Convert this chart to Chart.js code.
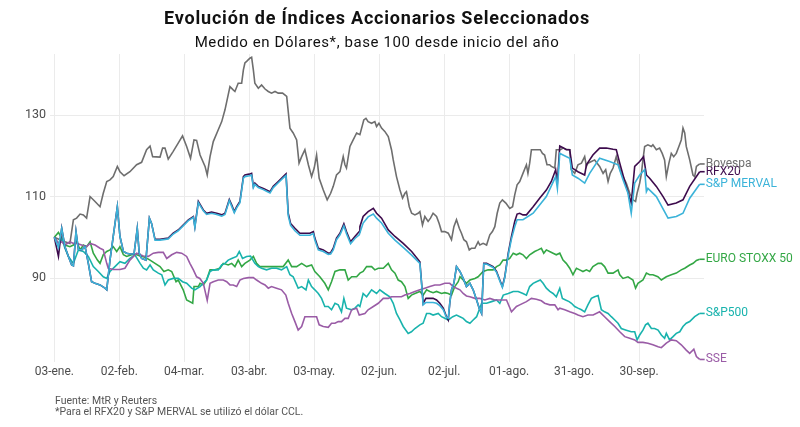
<!DOCTYPE html>
<html>
<head>
  <title>Evolución de Índices Accionarios Seleccionados</title>
  <script src="https://cdn.jsdelivr.net/npm/chart.js"></script>
  <style>
    body { margin: 0; background: #fff; }
  </style>
</head>
<body>
  <canvas id="indices" width="800" height="427"></canvas>

  <script>
    // dias desde el 03-ene, valor base 100
    var tickDays = [0, 30, 60, 90, 120, 150, 180, 210, 240, 270];
    var tickLabels = ['03-ene.', '02-feb.', '04-mar.', '03-abr.', '03-may.', '02-jun.', '02-jul.', '01-ago.', '31-ago.', '30-sep.'];
    var yTicks = [90, 110, 130];

    var bovespa = [[0,100],[2.6,99.4],[4.9,98.9],[7.2,98.5],[8.8,104.3],[10.3,104.7],[11.9,105.7],[13.4,105.5],[14.9,104.7],[16.5,110],[18.8,108.8],[21.1,107.5],[22.6,110.8],[24.2,113.7],[25.7,114.1],[27.2,114.9],[29.1,117.4],[30.3,116.1],[32.2,115.1],[34.9,116.1],[38,117.8],[40.3,118.4],[42.6,121.5],[44.2,122.4],[45.4,119.8],[48.8,119.7],[50,121.9],[51.1,121.9],[52.6,119.2],[54.9,121.1],[57.2,123.1],[59.2,124.9],[61.1,122.3],[62.9,119.4],[64.5,123.9],[65.7,123.8],
      [67.3,120.2],[69.6,117.4],[70.6,115.3],[71.9,119.8],[73.4,123.5],[75.7,126.4],[77.3,128.4],[78.8,131.3],[81.1,137],[82.6,136.2],[83.4,135.8],[84.9,137.8],[86.5,137.8],[87.3,141.1],[88,142.8],[88.8,143.2],[90.3,144],[91.1,144.2],[91.9,141.1],[92.6,137.8],[94.2,136.6],[95.7,137.4],[97.3,136.4],[98.8,135.8],[100.3,135.4],[101.9,135.8],[103.4,135.4],[105.4,135.4],[107.3,134.6],[108.8,126.8],[110.3,125.6],[111.9,123.9],[113,118.2],[114.2,119.8],[115.7,121.5],[117.3,117.8],[118.8,114.9],[120,117],[121.1,120.2],[122.3,114.5],[124.2,111.6],[126,109.2],[127.6,110.8],[128.8,112.5],[130.3,115.3],[131.9,116.1],[133.4,119.8],[134.2,117.8],[134.9,117],[136.5,122.3],[138,123.9],[139.6,125.6],
      [141.1,125.2],[142.9,128.8],[143.9,129.2],[144.9,128.4],[146.5,128],[148,128.4],[148.8,127.2],[149.9,128],[151.1,126.8],[152.6,126],[154.2,124.7],[155.7,121.5],[156.5,119],[158,114.9],[159.6,111.6],[160.8,109.6],[161.9,110.8],[162.6,111.2],[163.9,107.5],[165,105.9],[166.5,105.5],[168,105.9],[168.8,106.3],[170,103],[171.1,105.1],[172.6,103.9],[173.7,104.7],[174.9,105.9],[176.5,105.1],[177.7,103.4],[178.8,101.4],[180.3,101.4],[181.9,101],[183.4,99.4],[184.5,102.6],[185.7,104.3],[187,102.2],[188,101],[189.1,99.4],[190.3,98.9],[191.6,96.9],[192.6,97.3],[194.2,97.3],[195.7,98.9],[196.5,98.1],[198,98.5],[199.6,98.1],[201.1,100.6],[202.3,101.4],[203.4,102.6],[204.5,105.9],[205.7,108.4],[206.9,109.2],[208.5,108.4],[210.3,107.1],[211.6,107.5],[212.6,110.4],[213.7,112.9],
      [214.9,113.7],[216.4,115.7],[218,117.8],[218.7,115.7],[219.5,118.2],[220.3,121.5],[221.8,121.5],[223.4,121.5],[224.4,121.5],[225.4,120.6],[226.4,120.2],[227.5,117.8],[228.7,117.8],[229.5,117.4],[231.1,117],[231.8,121.5],[233.7,121.5],[234.9,121.9],[236.4,121.6],[238,121.5],[238.7,116.6],[240.3,115.7],[241.8,117.8],[243.4,118.2],[244.9,119.8],[245.7,117.4],[246.4,118.2],[248,118.6],[249.5,119],[251.8,117.4],[253.4,115.7],[254.6,116.6],[255.7,113.7],[256.7,115.7],[258,117],[259.5,119.8],[260.3,118.2],[261.8,115.7],[264.1,113.3],[265.7,110.8],[267.2,109.2],[268.4,108.8],[269.1,110.8],[270.3,113.3],[271.1,115.7],[271.8,119],[272.6,122.3],[274.1,122.7],[275.7,122.3],[276.4,122.7],[278,121.5],[279.5,121.9],[280.7,120.6],[281.8,119],[282.6,114.9],[283.8,118.2],[284.9,120.6],[286,119.8],[287.2,120.6],[288.4,122.3],[289.5,123.9],[290.3,126.8],[291.1,125.6],[291.8,122.3],[293.4,119],[294.9,115.3],[295.7,114.9],[296.5,117.4],[298,118]];

    var rfx20 = [[0,100],[1.9,95.3],[3.4,102.2],[4.9,97.7],[6.5,95.3],[8,93.2],[8.8,93],[10,101.4],[11.1,97.1],[12.6,96.9],[14.2,97.7],[15.7,93.6],[17.2,89.1],[18.8,88.7],[21.1,88.3],[23.4,87.5],[24.2,87.1],[25.7,94.4],[27.2,100.2],[29.1,107.5],[30.3,100.2],[31.9,96.5],[33.4,96.1],[34.9,95.9],[36.8,95.9],[38.3,102.2],[39.2,96.1],[40.3,94.8],[42.3,94.4],[43.9,104.7],[44.9,103.4],[46.5,99.5],[48.8,99.5],[52.6,99.8],[54.9,101],[57.2,101.8],[59.5,103],[61.9,104.3],[64.2,105.1],[64.9,102.6],[66.5,108.8],
      [68.8,106.7],[70.3,105.9],[72.6,106.2],[75,105.9],[77.3,105.5],[78.8,105.9],[80.8,109.3],[81.9,108],[83.1,106.3],[84.2,107.5],[85.7,108.8],[87.3,114.9],[88,115.3],[90,115.5],[91.1,115.7],[91.9,112.5],[92.6,113.3],[94.2,112.5],[96.5,112],[98,111.6],[99.6,111.2],[101.1,112.5],[103.4,113.7],[105.7,114.9],[107,115.6],[108,105.9],[109.1,103.4],[111.1,102.2],[113.4,101],[114.9,101],[118,101],[119.6,101.4],[120.3,99.8],[121.9,97.3],[124.2,96.9],[126.5,96.1],[127.6,96.2],[128.8,97.3],[130.3,99.8],[131.9,101],[133.7,103.3],[134.9,101.4],[136.8,98.9],[138.8,100.2],[140.8,101.4],
      [141.1,102.6],[142.6,105.1],[144.9,106.3],[147.3,107.1],[148.8,105.9],[151.1,104.7],[154.2,101.8],[157.3,100.2],[161.1,98.5],[165,96.5],[168.8,94],[169.6,88.7],[170.3,83.8],[171.6,85],[173.4,85],[174.9,85],[176.5,84.6],[178,83.8],[179.6,82.6],[181.1,80.5],[181.9,79.7],[182.6,83.8],[183.4,87.1],[184.5,88.7],[185.7,92.8],[187.3,91.6],[188.8,89.9],[190.3,87.9],[191.9,88.7],[193.4,87.1],[195,84.6],[196.2,82.6],[197.3,81.3],[198.3,93.6],[199.6,93.6],[201.1,93.2],[202.6,92.8],[204.2,91.6],[205.7,89.5],[206.9,87.9],[208,90.3],[209.6,96.1],[211.1,100.2],[212.6,103.9],[213.7,105.7],
      [214.9,105.9],[216.4,105.5],[218,105.5],[221.1,107.5],[224.1,109.6],[227.2,111.6],[229.5,113.7],[231.5,116.6],[232.3,113.5],[233.4,122.4],[234.9,122],[236.4,121.5],[238,121.5],[239.2,117],[240.3,116.6],[241.8,116.1],[244.9,115.3],[245.7,117.8],[247.2,119],[248.7,120.2],[251.8,121.9],[254.9,121.9],[258,121.6],[259.5,121.5],[261.1,118.2],[262.6,115.3],[264.1,112.5],[266.4,108.4],[268,117.4],[270.3,118.6],[272.1,119.8],[273.4,115.3],[274.9,114.5],[278,112.5],[281.1,110],[283.4,107.9],[287.2,108.4],[290.3,109.2],[293.4,112.5],[298,116.1]];

    var merval = [[0,100],[1.9,97.5],[3.4,102.2],[4.9,97.7],[6.5,95.3],[8,93.2],[8.8,93],[10,101.4],[11.1,97.1],[12.6,96.9],[14.2,97.7],[15.7,93.6],[17.2,89.1],[18.8,88.7],[21.1,88.3],[23.4,87.5],[24.2,87.1],[25.7,94.4],[27.2,100.2],[29.1,107.5],[30.3,100.2],[31.9,96.5],[33.4,96.1],[34.9,95.9],[36.8,95.9],[38.3,102.2],[39.2,96.1],[40.3,94.8],[42.3,94.4],[43.9,104.7],[44.9,103.4],[46.5,99.3],[48.8,99.3],[52.6,99.6],[54.9,100.8],[57.2,101.6],[59.5,102.8],[61.9,104.1],[64.2,104.9],[64.9,102.4],[66.5,108.5],
      [68.8,106.5],[70.3,105.6],[72.6,105.9],[75,105.6],[77.3,105.2],[78.8,105.6],[80.8,109],[81.9,107.6],[83.1,106],[84.2,107.2],[85.7,108.5],[87.3,114.5],[88,114.9],[90,115.1],[91.1,115.3],[91.9,112.2],[92.6,113],[94.2,112.2],[96.5,111.7],[98,111.3],[99.6,110.9],[101.1,112.2],[103.4,113.4],[105.7,114.6],[107,115.2],[108,105.3],[109.1,102.9],[111.1,101.6],[113.4,100.5],[114.9,100.5],[118,100.5],[119.6,100.9],[120.3,99.3],[121.9,96.9],[124.2,96.5],[126.5,95.8],[127.6,95.9],[128.8,96.9],[130.3,99.4],[131.9,100.6],[133.7,102.8],[134.9,100.9],[136.8,98.4],[138.8,99.7],[140.8,100.6],
      [141.1,100.6],[142.6,103.5],[144.9,105],[147.3,105.7],[148.8,104.7],[151.1,103.5],[154.2,101],[157.3,99.3],[161.1,97.5],[165,95.6],[168.8,93.6],[169.6,88.5],[170.3,83.4],[171.6,84],[173.4,84],[174.9,84],[176.5,83.8],[178,83.2],[179.6,82.2],[181.1,80.3],[181.9,80.1],[182.6,83.8],[183.4,87.1],[184.5,88.7],[185.7,92.8],[187.3,91.6],[188.8,89.9],[190.3,87.9],[191.9,88.7],[193.4,87.1],[195,84.6],[196.2,82.6],[197.3,81.3],[198.3,93.4],[199.6,93.4],[201.1,93],[202.6,92.6],[204.2,91.4],[205.7,89.3],[206.9,87.7],[208,90.1],[209.6,95.7],[211.1,99.6],[212.6,102.6],[213.7,104.3],
      [214.9,104.3],[216.4,104.3],[221.1,105.9],[227.2,110],[231.5,114.9],[232.3,112],[233.4,120.6],[234.9,120.2],[238,119.4],[239.2,115.3],[241.8,114.5],[244.9,113.3],[247.2,115.7],[251.8,119.4],[256.4,118.6],[260.3,117.8],[262.6,114.1],[264.9,110.8],[266.4,105.9],[268,113.3],[270.3,115.3],[272.6,116.6],[273.4,111.2],[274.1,112],[278,110],[283.4,104.7],[287.2,105.1],[290.3,105.9],[293.4,109.6],[298,113]];

    var eurostoxx = [[0,100],[1.9,101.2],[2.9,100.2],[4.9,98.1],[7.2,97.7],[8.8,98.1],[10.3,98.9],[11.9,96.9],[13.4,98.1],[14.9,97.7],[16.5,98.9],[18,96.1],[19.9,94.4],[21.1,93.6],[22.6,95.7],[24.2,96.5],[25.7,96.9],[27.2,97.7],[28.8,96.5],[30.3,97.7],[31.9,95.7],[33.4,95.3],[35.7,95.7],[37.2,95.9],[39.6,95.4],[41.9,95.1],[44.2,94.4],[46.5,93.6],[48.8,92.8],[50.6,91.6],[52.6,92],[54.2,91.6],[56.2,89.1],[57.2,89.5],[58,88.7],[59.5,87.1],[61.1,84.6],[63.9,83.8],[64.5,87.9],[66.5,87.9],
      [67.3,88.7],[68.8,88.3],[70.3,89.5],[71.9,92],[74.2,92],[76.5,92.4],[78,93.6],[80.3,93.2],[81.9,93.6],[83.4,92.8],[84.9,94.4],[86.5,92.8],[88,93.6],[90.3,94.4],[91.9,95.3],[93.4,93.6],[94.9,92.8],[97.3,92.8],[99.6,92.8],[102.6,92.8],[105.7,92.8],[108,94.4],[109.6,92.8],[111.9,92.8],[114.2,93.6],[116.5,92.8],[118.8,93.2],[120.3,91.6],[122.6,90.3],[124.9,88.7],[126.5,87.1],[128,89.1],[129.6,91.6],[131.9,92],[134.2,92],[135.7,89.5],[137.3,90.3],[139.6,90.3],
      [141.1,91.2],[142.6,91.6],[144.2,92.8],[146.5,92.8],[148,92],[149.6,92.4],[151.9,92.4],[154.2,93.6],[155.7,92],[157.3,91.2],[158.8,89.5],[160.3,89.1],[161.9,87.9],[163.4,85],[164.9,85.8],[166.5,86.2],[168.8,86.7],[170.3,85.8],[171.9,87.1],[173.4,86.7],[174.9,86.4],[176.5,86.7],[178.8,86.2],[180.3,86.4],[181.9,86.2],[183.4,85.8],[184.9,87.9],[186.5,89.1],[187.3,90.3],[188.8,89.5],[190.3,88.7],[191.9,89.5],[194.2,89.9],[195.7,90.3],[198,91.6],[200.3,92],[202.6,92],[204.2,92.8],[205.7,93.2],[207.2,94.4],[208.8,94.4],[210.3,94.8],[211.9,96.1],[213.4,95.7],
      [214.9,96.1],[216.4,95.7],[218,94.8],[219.5,95.7],[221.8,96.5],[223.4,96.9],[224.9,97.3],[226,96.1],[227.2,96.9],[228.7,96.5],[230.3,96.1],[231.8,95.7],[233.4,96.1],[234.9,94.4],[236.4,93.6],[238,92.4],[239.5,90.8],[241.1,92.4],[242.6,92],[244.1,91.6],[245.7,92],[247.2,91.6],[248.7,92.8],[251.1,93.6],[252.6,93.6],[254.1,92.8],[255.7,91.2],[258,91.2],[260.3,92],[261.1,90.8],[262.6,89.9],[264.9,90.3],[267.2,89.5],[268.4,87.5],[269.5,88.7],[271.8,89.5],[273.4,91.2],[274.9,90.8],[276.4,90.8],[278.7,90.3],[280.3,89.5],[282.6,90.3],[284.9,90.8],[287.2,91.2],[289.5,92],[291.1,92.4],[293.4,93.2],[295,93.6],[296.5,94.3],[298,94.6]];

    var sp500 = [[0,100],[1.9,98.5],[3.4,99.8],[4.9,97.3],[6.5,95.3],[8.8,93.6],[11.1,96.9],[13.4,96.5],[15.7,95.3],[18,92.8],[20.3,91.6],[22.6,90.3],[24.2,89.9],[25.7,91.6],[28,92.8],[30.3,94],[32.6,93.6],[34.9,94.8],[37.2,95.7],[39.6,93.6],[41.1,92.4],[42.6,92],[44.2,93.2],[45.7,92],[48,91.2],[49.6,90.8],[51.1,88.3],[52.6,89.5],[54.9,89.9],[57.2,89.9],[59.2,89.1],[61.1,88.7],[63.4,87.5],[64.9,87.1],
      [67.3,87.9],[68.8,88.7],[70.3,89.5],[71.9,91.6],[73.4,92],[75.7,92],[77.3,93.2],[78.8,93.6],[80.3,94.4],[81.9,94.8],[84.2,95.3],[85.4,96.5],[86.9,94.8],[88.8,95.3],[90.6,95.4],[92.6,93.6],[94.2,92.8],[95.7,92.4],[98,92],[100.3,92.4],[102.6,92.4],[104.9,92],[107.3,92.8],[108.8,90.8],[110.3,90.3],[112.6,87.5],[114.2,87.9],[116.2,87.1],[117.3,89.5],[118.8,87.9],[120.3,87.1],[121.9,86.2],[123.4,85],[124.9,83],[126.5,83],[128,82.2],[129.6,83.8],[131.1,83.4],[132.6,81.7],[133.7,85],[134.9,82.6],[137.3,82.2],[138.8,82.6],[140.3,83.4],
      [141.1,83],[142.6,86.2],[144.2,85.4],[146.5,87.1],[148.8,86.2],[150.3,87.1],[152.6,86.2],[154.9,85.4],[156.5,83.8],[158,81.3],[159.6,79.7],[161.1,78.1],[163.4,76.4],[164.9,76.8],[166.5,77.6],[168.8,78.5],[170.3,78.9],[171.9,81.3],[173.4,81.3],[174.9,80.9],[177.3,81.3],[178.8,80.5],[180.3,80.1],[181.9,79.7],[184,80.5],[185.7,80.9],[187.3,80.5],[188.8,80.1],[190.3,79.3],[191.9,78.9],[193.4,79.7],[195,80.5],[197.3,83.8],[199.6,83.8],[201.9,84.2],[204.2,84.6],[205.7,83.8],[207.3,85.8],[209.6,86.2],[211.9,86.7],[214.2,86.7],
      [216.4,86.2],[218,85.8],[219.5,87.9],[221.1,88.7],[222.6,89.1],[224.4,89.5],[225.7,88.7],[227.2,87.5],[228.8,86.7],[230.3,86.2],[231.8,85.4],[233.4,87.5],[234.6,85],[236.1,84.6],[237.7,84.2],[238.8,83.8],[240.3,83],[241.8,82.6],[243.4,82.2],[244.9,81.7],[246.4,83.4],[248,85],[249.5,85.4],[251.1,85.7],[252.6,82.2],[254.1,81.7],[255.7,81.3],[257.2,80.5],[258.8,79.7],[260.3,78.9],[261.8,77.6],[264.1,77.2],[266.4,76.8],[268,76.8],[269.1,74.8],[270.3,76],[271.8,77.2],[273,78.5],[274.1,78.9],[275.7,77.6],[277.2,77.6],[278.8,77.2],[280.3,76],[281.8,75.2],[282.6,76.4],[284.1,74.8],[285.7,75.6],[287.2,76.4],[288.8,76.8],[290.3,78.1],[291.8,78.9],[293.4,79.3],[295.7,80.5],[298,81.3]];

    var sse = [[0,100],[1.9,98.5],[3.4,98.9],[4.9,98.1],[7.2,98.9],[8.8,98.5],[10.3,98.5],[12.6,98.1],[14.9,97.7],[16.5,98.5],[18.8,98.1],[21.1,97.3],[22.6,96.9],[24.2,93.6],[24.9,92.4],[27.2,92.1],[30.3,92.1],[32.6,92.4],[34.9,94.4],[38,96.1],[41.1,95.4],[43.4,95.3],[45.7,96.1],[48,96.3],[50.3,96.3],[51.9,94.8],[54.2,95.7],[56.5,96.3],[58.8,96.1],[61.1,95.3],[62.6,93.6],[64.2,92],[65.7,90.3],[67.2,89.9],[68.8,88.7],[70.6,84.5],
      [71.9,88.7],[73.4,89.1],[75.7,89.5],[78,89.5],[79.6,89.1],[81.1,88.3],[82.6,88.3],[84.2,87.9],[85.7,89.5],[87.3,89.9],[89.6,90.1],[91.9,90.1],[93.4,89.5],[95.7,88.7],[97.3,88.3],[98.8,87.5],[100.3,87.9],[102.6,87.5],[104.9,87.1],[106.9,85.8],[108,83.8],[109.6,81.3],[111.1,79.3],[112.6,77.2],[114.2,78.1],[115.7,80.5],[118,80.5],[121.1,80.5],[122.3,78.5],[124.2,78.1],[126.5,77.9],[128,78.9],[129.6,78.9],[131.1,79.3],[132.6,79.3],[134.2,80.1],[135.7,80.1],[137.3,82.2],[139.6,82.6],[140.8,80.9],
      [143.4,81.3],[144.9,82.2],[147.3,83],[149.6,83.8],[151.9,85],[154.2,85],[155.7,85.4],[158,85.4],[160.3,85.4],[161.9,85.8],[164.2,86.2],[166.5,86.7],[168.8,87.1],[171.1,87.5],[173.4,87.9],[175.7,88.3],[178,88.3],[180.3,88.7],[182.6,88.7],[184.2,87.9],[185.7,87.5],[187.3,87.1],[188.8,86.2],[190.3,85.6],[191.9,85.4],[194.2,85],[196.5,85],[198.8,84.6],[201.1,85],[203.4,84.6],[205.7,84.6],[208.8,84.6],[211.1,81.7],[213.4,83],
      [214.9,83.4],[218,84.2],[220.3,85],[222.6,84.8],[224.9,84.4],[226.4,83.8],[228.8,83.4],[231.1,83.4],[232.6,82.2],[233.4,82.6],[235.7,82.2],[238,81.7],[240.3,81.3],[241.8,80.9],[244.1,80.5],[246.4,80.9],[248.8,80.9],[251.8,81.7],[254.1,80.5],[256.4,79.3],[258.8,78.1],[261.1,76.8],[263.4,75.6],[265.7,75.2],[268,74.8],[269.5,74.2],[271.8,74.2],[274.1,74],[276.4,73.6],[278.8,73.1],[280.3,72.9],[282.6,74],[284.9,74.8],[287.2,74.6],[289.5,73.6],[291.8,72.3],[293.4,71.5],[295.3,72.5],[296.5,70.7],[298,70]];

    function toPoints(arr) {
      return arr.map(function(p) { return { x: p[0], y: p[1] }; });
    }

    function serie(label, data, color) {
      return {
        label: label,
        data: toPoints(data),
        borderColor: color,
        backgroundColor: color,
        borderWidth: 1.6,
        pointRadius: 0,
        tension: 0,
        fill: false
      };
    }

    // titulos, fuente y etiquetas al final de cada linea
    var decoraciones = {
      id: 'decoraciones',
      afterDatasetsDraw: function(chart) {
        var ctx = chart.ctx;
        ctx.save();
        ctx.font = '12px Roboto';
        ctx.textBaseline = 'middle';
        chart.data.datasets.forEach(function(ds, i) {
          var meta = chart.getDatasetMeta(i);
          var last = meta.data[meta.data.length - 1];
          ctx.strokeStyle = ds.borderColor;
          ctx.lineWidth = 1.6;
          ctx.beginPath();
          ctx.moveTo(last.x, last.y);
          ctx.lineTo(last.x + 5, last.y);
          ctx.stroke();
          ctx.fillStyle = ds.borderColor;
          ctx.fillText(ds.label, last.x + 6, last.y);
        });
        ctx.restore();
      },
      afterDraw: function(chart) {
        var ctx = chart.ctx;
        var area = chart.chartArea;
        var cx = (area.left + area.right) / 2;
        ctx.save();
        ctx.textAlign = 'center';
        ctx.textBaseline = 'middle';
        ctx.fillStyle = '#111';
        ctx.font = 'bold 18px Roboto';
        ctx.letterSpacing = '0.8px';
        ctx.fillText('Evolución de Índices Accionarios Seleccionados', cx, 19);
        ctx.font = '15px Roboto';
        ctx.letterSpacing = '0.6px';
        ctx.fillText('Medido en Dólares*, base 100 desde inicio del año', cx, 43);
        ctx.letterSpacing = '0px';
        ctx.textAlign = 'left';
        ctx.fillStyle = '#555';
        ctx.font = '10.5px Roboto';
        ctx.fillText('Fuente: MtR y Reuters', area.left + 5, 401);
        ctx.fillText('*Para el RFX20 y S&P MERVAL se utilizó el dólar CCL.', area.left + 5, 412);
        ctx.restore();
      }
    };

    var ctx = document.getElementById('indices').getContext('2d');
    new Chart(ctx, {
      type: 'line',
      data: {
        // Chart.js pinta el primer dataset encima
        datasets: [
          serie('S&P MERVAL', merval, '#3bb3d9'),
          serie('RFX20', rfx20, '#3d0b4d'),
          serie('SSE', sse, '#9a5ca6'),
          serie('S&P500', sp500, '#19b3ad'),
          serie('EURO STOXX 50', eurostoxx, '#33a745'),
          serie('Bovespa', bovespa, '#6e6e6e')
        ]
      },
      options: {
        responsive: false,
        animation: false,
        layout: { padding: { top: 54, right: 96, bottom: 45.5, left: 0 } },
        plugins: {
          legend: { display: false },
          tooltip: { enabled: false }
        },
        scales: {
          x: {
            type: 'linear',
            min: -2,
            max: 300,
            afterBuildTicks: function(scale) {
              scale.ticks = tickDays.map(function(v) { return { value: v }; });
            },
            afterFit: function(scale) { scale.height = 20; },
            grid: { color: '#ebebeb', lineWidth: 1, drawTicks: false },
            border: { display: false },
            ticks: {
              autoSkip: false,
              maxRotation: 0,
              padding: 3,
              color: '#4d4d4d',
              font: { family: 'Roboto', size: 12 },
              callback: function(v) { return tickLabels[tickDays.indexOf(v)]; }
            }
          },
          y: {
            min: 69.5,
            max: 145,
            afterBuildTicks: function(scale) {
              scale.ticks = yTicks.map(function(v) { return { value: v }; });
            },
            afterFit: function(scale) { scale.width = 50; },
            grid: { color: '#ebebeb', lineWidth: 1, drawTicks: false },
            border: { display: false },
            ticks: {
              padding: 4,
              color: '#4d4d4d',
              font: { family: 'Roboto', size: 12.5 }
            }
          }
        }
      },
      plugins: [decoraciones]
    });
  </script>
</body>
</html>
